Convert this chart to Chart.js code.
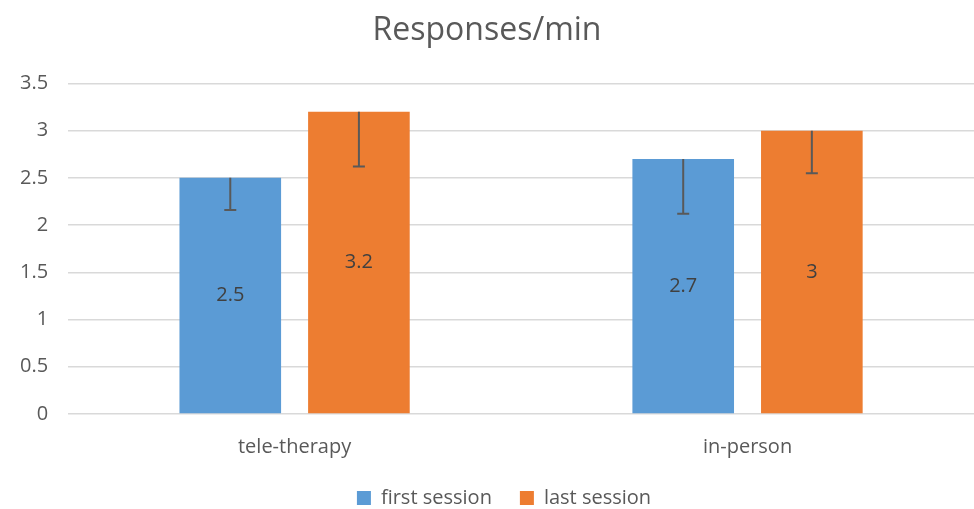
<!DOCTYPE html>
<html>
<head>
<meta charset="utf-8">
<script src="https://cdn.jsdelivr.net/npm/chart.js@4.4.0/dist/chart.umd.min.js"></script>
<style>
html,body{margin:0;padding:0;background:#fff;}
#wrap{width:974px;height:509px;}
</style>
</head>
<body>
<div id="wrap"><canvas id="c" width="974" height="509"></canvas></div>
<script>
const categories = ["tele-therapy", "in-person"];
const seriesNames = ["first session", "last session"];
const firstSession = [2.5, 2.7];
const lastSession = [3.2, 3.0];
const firstSessionLow = [2.16, 2.12];
const lastSessionLow = [2.62, 2.55];
const yTicks = [0, 0.5, 1, 1.5, 2, 2.5, 3, 3.5];

const FONT = "'Open Sans', 'Noto Sans', sans-serif";
const lows = [firstSessionLow, lastSessionLow];

const LEGEND_SHRINK = 21;
const LEGEND_TOP = 460;
const LEGEND_DX = 17;

const barExtras = {
  id: 'barExtras',
  afterInit(chart) {
    const lg = chart.legend;
    if (lg && !lg._patched) {
      const origFit = lg.fit.bind(lg);
      lg.fit = function () {
        origFit();
        this._fullHeight = this.height;
        this.height = Math.max(0, this.height - LEGEND_SHRINK);
      };
      lg._patched = true;
    }
  },
  afterLayout(chart) {
    const lg = chart.legend;
    if (lg && lg._fullHeight) {
      lg.top = LEGEND_TOP;
      lg.height = lg._fullHeight;
      lg.bottom = lg.top + lg.height;
      lg.left += LEGEND_DX;
      lg.right += LEGEND_DX;
    }
  },
  afterDatasetsDraw(chart) {
    const ctx = chart.ctx;
    const yScale = chart.scales.y;
    chart.data.datasets.forEach((ds, di) => {
      const meta = chart.getDatasetMeta(di);
      meta.data.forEach((el, i) => {
        ctx.save();
        ctx.fillStyle = '#404040';
        ctx.font = "20px " + FONT;
        ctx.textAlign = 'center';
        ctx.textBaseline = 'middle';
        ctx.fillText(String(ds.data[i]), el.x, (el.y + el.base) / 2);
        ctx.restore();
        const yl = yScale.getPixelForValue(lows[di][i]);
        ctx.save();
        ctx.strokeStyle = '#595959';
        ctx.lineWidth = 2;
        ctx.beginPath();
        ctx.moveTo(el.x, el.y);
        ctx.lineTo(el.x, yl);
        ctx.moveTo(el.x - 6, yl);
        ctx.lineTo(el.x + 6, yl);
        ctx.stroke();
        ctx.restore();
      });
    });
  }
};

new Chart(document.getElementById('c'), {
  type: 'bar',
  data: {
    labels: categories,
    datasets: [
      { label: seriesNames[0], data: firstSession, backgroundColor: '#5B9BD5' },
      { label: seriesNames[1], data: lastSession, backgroundColor: '#ED7D31' }
    ]
  },
  options: {
    responsive: false,
    animation: false,
    devicePixelRatio: 1,
    layout: { padding: { left: 0, right: 0, top: 4, bottom: 0 } },
    datasets: { bar: { categoryPercentage: 0.568, barPercentage: 0.79 } },
    plugins: {
      title: {
        display: true, text: 'Responses/min', color: '#595959',
        font: { family: FONT, size: 32, weight: 'normal' },
        padding: { top: 8, bottom: 33 }
      },
      legend: {
        position: 'bottom',
        labels: {
          color: '#595959', boxWidth: 14, boxHeight: 14, padding: 28,
          font: { family: FONT, size: 20 }
        }
      },
      tooltip: { enabled: false }
    },
    scales: {
      x: {
        grid: { display: false },
        border: { display: false },
        ticks: { color: '#595959', font: { family: FONT, size: 20 }, padding: 13 }
      },
      y: {
        min: 0, max: 3.5,
        afterBuildTicks(axis) { axis.ticks = yTicks.map(v => ({ value: v })); },
        grid: { color: '#d9d9d9', lineWidth: 1.5, drawTicks: false },
        border: { display: false },
        ticks: {
          color: '#595959', font: { family: FONT, size: 20 }, padding: 20,
          callback: v => String(v)
        }
      }
    }
  },
  plugins: [barExtras]
});
</script>
</body>
</html>
